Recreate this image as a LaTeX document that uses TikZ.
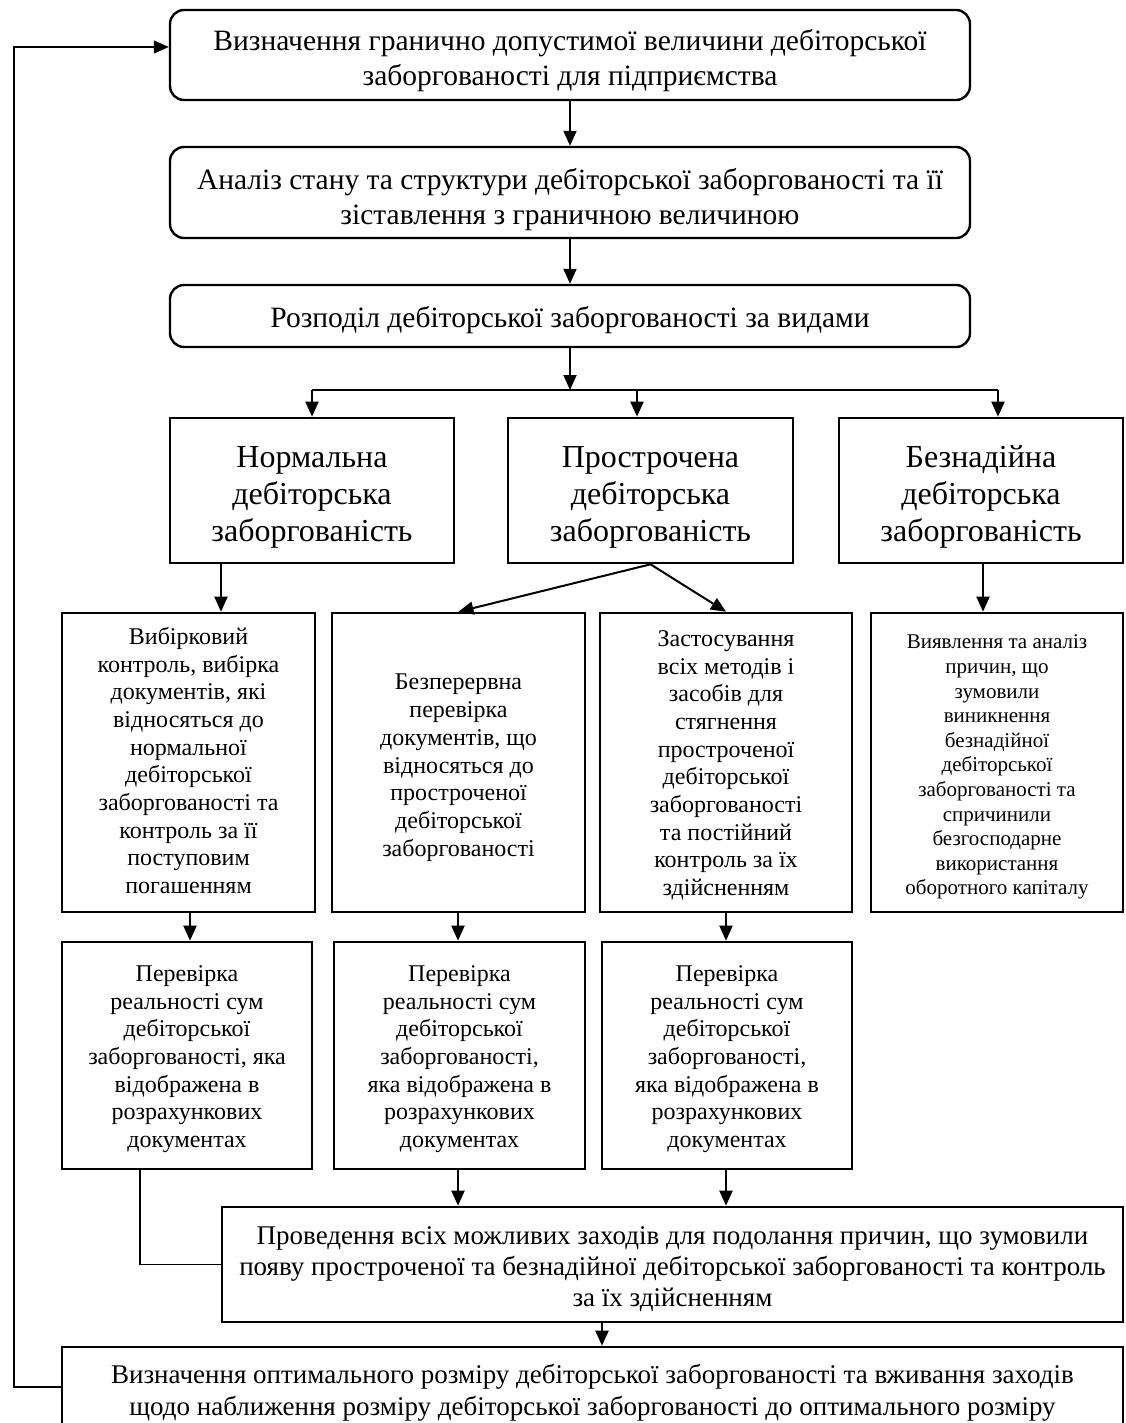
\documentclass[tikz,border=0pt]{standalone}
\usepackage{fontspec}
\setmainfont{Liberation Serif}
\usetikzlibrary{arrows.meta,calc}
\newcommand\lwr[2]{\raisebox{-#1}[\height][\depth]{\begin{tabular}{@{}c@{}}#2\end{tabular}}}
\begin{document}
\begin{tikzpicture}[x=0.5pt,y=-0.5pt,
  rbox/.style={draw, line width=1.2pt, rounded corners=7pt, inner sep=0pt},
  sbox/.style={draw, line width=1.3pt, inner sep=0pt},
  arr/.style={line width=1pt, -{Triangle[length=7.5pt,width=6.5pt]}},
  thinarr/.style={line width=0.6pt, -{Triangle[length=7.5pt,width=6.5pt]}},
  thinline/.style={line width=0.55pt},
  fA/.style={font=\fontsize{14.75}{17.5}\selectfont},
  fB/.style={font=\fontsize{16}{18.5}\selectfont},
  fC/.style={font=\fontsize{12}{13.85}\selectfont},
  fD/.style={font=\fontsize{10.5}{12.3}\selectfont},
  fE/.style={font=\fontsize{13.5}{15.5}\selectfont},
  fF/.style={font=\fontsize{13.5}{16}\selectfont}]
\useasboundingbox (0,0) rectangle (1125,1423);

% top rounded boxes
\node[rbox, fA, minimum width=400pt, minimum height=45pt] (b1) at (570,55)
  {\lwr{3pt}{Визначення гранично допустимої величини дебіторської\\заборгованості для підприємства}};
\node[rbox, fA, minimum width=400pt, minimum height=45.5pt] (b2) at (570,192.5)
  {\lwr{4pt}{Аналіз стану та структури дебіторської заборгованості та її\\зіставлення з граничною величиною}};
\node[rbox, fA, minimum width=400pt, minimum height=31pt] (b3) at (570,316)
  {\lwr{2pt}{Розподіл дебіторської заборгованості за видами}};

% level 2
\node[sbox, fB, minimum width=142pt, minimum height=72.5pt] (n) at (312,490.5)
  {\lwr{3.5pt}{Нормальна\\дебіторська\\заборгованість}};
\node[sbox, fB, minimum width=142.5pt, minimum height=72.5pt] (p) at (650.5,490.5)
  {\lwr{3.5pt}{Прострочена\\дебіторська\\заборгованість}};
\node[sbox, fB, minimum width=142pt, minimum height=72.5pt] (z) at (981,490.5)
  {\lwr{3.5pt}{Безнадійна\\дебіторська\\заборгованість}};

% level 3
\node[sbox, fC, minimum width=126.5pt, minimum height=149.5pt] (v) at (188.5,762.5)
  {\lwr{0.5pt}{Вибірковий\\контроль, вибірка\\документів, які\\відносяться до\\нормальної\\дебіторської\\заборгованості та\\контроль за її\\поступовим\\погашенням}};
\node[sbox, fC, minimum width=126.5pt, minimum height=149.5pt] (bp) at (458.5,762.5)
  {\lwr{2.5pt}{Безперервна\\перевірка\\документів, що\\відносяться до\\простроченої\\дебіторської\\заборгованості}};
\node[sbox, fC, minimum width=126pt, minimum height=149.5pt] (zs) at (726,762.5)
  {\lwr{1.5pt}{Застосування\\всіх методів і\\засобів для\\стягнення\\простроченої\\дебіторської\\заборгованості\\та постійний\\контроль за їх\\здійсненням}};
\node[sbox, fD, minimum width=126pt, minimum height=149.5pt] (va) at (997,762.5)
  {\lwr{2.25pt}{Виявлення та аналіз\\причин, що\\зумовили\\виникнення\\безнадійної\\дебіторської\\заборгованості та\\спричинили\\безгосподарне\\використання\\оборотного капіталу}};

% level 4
\node[sbox, fC, minimum width=125pt, minimum height=113.5pt] (ra) at (187,1055.5)
  {\lwr{1.75pt}{Перевірка\\реальності сум\\дебіторської\\заборгованості, яка\\відображена в\\розрахункових\\документах}};
\node[sbox, fC, minimum width=125.5pt, minimum height=113.5pt] (rb) at (459.5,1055.5)
  {\lwr{1.75pt}{Перевірка\\реальності сум\\дебіторської\\заборгованості,\\яка відображена в\\розрахункових\\документах}};
\node[sbox, fC, minimum width=125pt, minimum height=113.5pt] (rc) at (727,1055.5)
  {\lwr{1.75pt}{Перевірка\\реальності сум\\дебіторської\\заборгованості,\\яка відображена в\\розрахункових\\документах}};

% measures
\node[sbox, fE, minimum width=450.5pt, minimum height=57.5pt] (pr) at (672.5,1264.5)
  {\lwr{2.25pt}{Проведення всіх можливих заходів для подолання причин, що зумовили\\появу простроченої та безнадійної дебіторської заборгованості та контроль\\за їх здійсненням}};
\node[sbox, fF, minimum width=530.5pt, minimum height=45pt] (bt) at (592.5,1392)
  {\lwr{0.5pt}{Визначення оптимального розміру дебіторської заборгованості та вживання заходів\\щодо наближення розміру дебіторської заборгованості до оптимального розміру}};

% helper coordinates
\coordinate (br) at (570,390);
\coordinate (brL) at (312,390);
\coordinate (brP) at (637,390);
\coordinate (brR) at (998,390);
\coordinate (xn) at (221,0);
\coordinate (xz) at (983,0);
\coordinate (xa) at (190,0);
\coordinate (xb) at (458,0);
\coordinate (xc) at (726,0);
\coordinate (xt) at (140,0);
\coordinate (xp) at (602,0);
\coordinate (xl) at (14,0);

% connectors
\draw[arr] (b1.south) -- (b2.north);
\draw[arr] (b2.south) -- (b3.north);
\draw[arr] (b3.south) -- (br);
\draw[thinline] (brL) -- (brR);
\draw[arr] (brL) -- (n.north);
\draw[arr] (brP) -- (brP |- p.north);
\draw[arr] (brR) -- (brR |- z.north);

\draw[arr] (n.south -| xn) -- (v.north -| xn);
\draw[arr] (p.south) -- (bp.north);
\draw[arr] (p.south) -- (zs.north);
\draw[arr] (z.south -| xz) -- (va.north -| xz);

\draw[arr] (v.south -| xa) -- (ra.north -| xa);
\draw[arr] (bp.south -| xb) -- (rb.north -| xb);
\draw[arr] (zs.south -| xc) -- (rc.north -| xc);

\draw[arr] (rb.south -| xb) -- (pr.north -| xb);
\draw[arr] (rc.south -| xc) -- (pr.north -| xc);
\draw[thinline] (ra.south -| xt) |- (pr.west);

\draw[arr] (pr.south -| xp) -- (bt.north -| xp);
\draw[thinarr] ($(bt.west)+(0,-5)$) -- (xl |- {$(bt.west)+(0,-5)$}) -- (xl |- {$(b1.west)+(0,-8)$}) -- ($(b1.west)+(0,-8)$);
\end{tikzpicture}
\end{document}
